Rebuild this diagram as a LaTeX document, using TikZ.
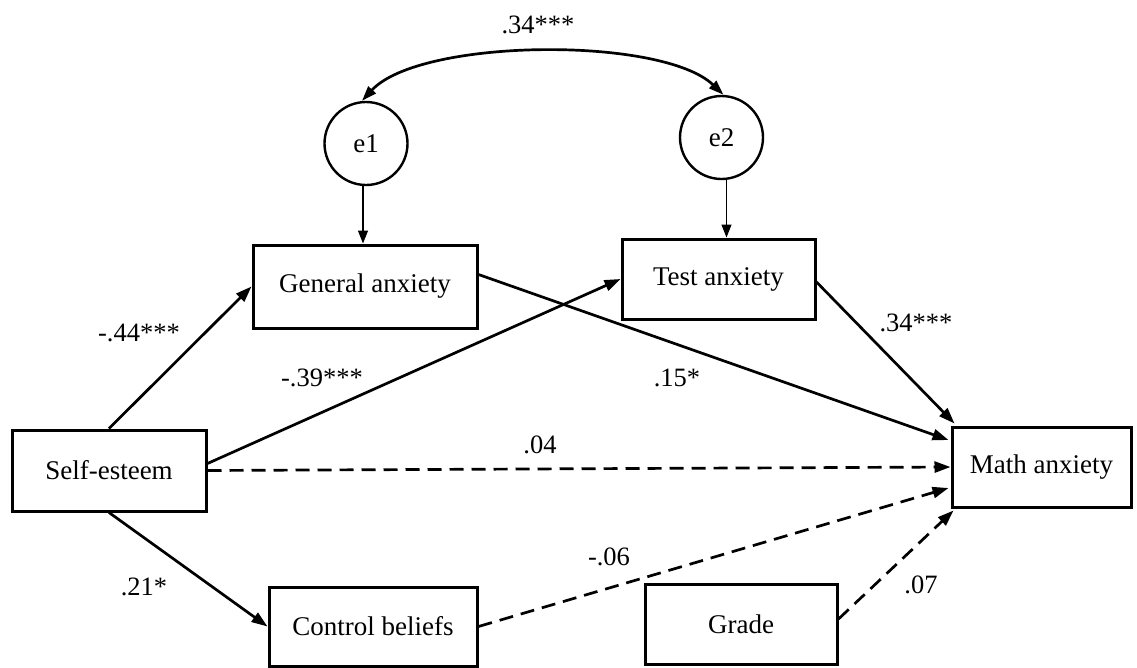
\documentclass[tikz,border=0pt]{standalone}
\usepackage{fontspec}
\setmainfont{Liberation Serif}
\usetikzlibrary{arrows.meta,calc}
\begin{document}
\begin{tikzpicture}[x=1pt,y=-1pt,
  box/.style={draw,line width=3pt,rectangle,inner sep=0pt,font=\fontsize{27}{32}\selectfont},
  err/.style={draw,line width=2.4pt,circle,inner sep=0pt,minimum size=83pt,font=\fontsize{27}{32}\selectfont},
  lbl/.style={inner sep=0pt,font=\fontsize{26.5}{32}\selectfont},
  path/.style={line width=2.7pt,-{Triangle[length=16pt,width=11pt]}},
  dpath/.style={path,dash pattern=on 14pt off 8pt},
  thinarr/.style={line width=1.3pt,-{Triangle[length=13pt,width=10pt]}},
  corr/.style={line width=2.7pt,{Triangle[length=15pt,width=10pt]}-{Triangle[length=15pt,width=10pt]}}
]
\useasboundingbox (0,0) rectangle (1137,667);
\fill[white] (0,0) rectangle (1137,667);

\node[box,minimum width=194pt,minimum height=81pt] (selfe) at (109,470.5) {Self-esteem};
\node[box,minimum width=224pt,minimum height=83pt] (gen) at (365,286.5) {General anxiety};
\node[box,minimum width=193pt,minimum height=80pt] (test) at (718.5,279) {Test anxiety};
\node[box,minimum width=179pt,minimum height=80pt] (math) at (1041.5,467) {Math anxiety};
\node[box,minimum width=208pt,minimum height=79pt] (ctrl) at (373,626.5) {Control beliefs};
\node[box,minimum width=192pt,minimum height=80pt] (grade) at (741,624) {Grade};
\node[err] (e1) at (366,143.5) {e1};
\node[err] (e2) at (721.5,137.5) {e2};

% error arrows
\draw[thinarr] ([xshift=-3pt]e1.south) -- ([xshift=-3pt]e1.south |- gen.north);
\draw[thinarr] ([xshift=5pt]e2.south) -- ([xshift=5pt]e2.south |- test.north);

% correlation
\draw[corr] ([xshift=-4pt]e1.north) .. controls (420,38) and (662,36) .. ([xshift=2pt]e2.north);
\node[lbl] (l0) at (538,25) {.34***};

% paths
\draw[path] (selfe.north) -- (gen.west);
\draw[path] ($(selfe.east)+(0,-7)$) -- (test.west);
\draw[dpath] (selfe.east) -- (math.west);
\draw[path] (selfe.south) -- (ctrl.west);
\draw[path] ($(gen.east)+(0,-12)$) -- ($(math.west)+(-2,-27)$);
\draw[path] ($(test.east)+(0,3)$) -- ($(math.north west)+(4,-2)$);
\draw[dpath] (ctrl.east) -- ($(math.west)+(-2,21)$);
\draw[dpath] ($(grade.east)+(0,-5)$) -- ($(math.south west)+(3,2)$);

% labels
\node[lbl] (l1) at (139,333) {-.44***};
\node[lbl] (l2) at (322,378) {-.39***};
\node[lbl] (l3) at (677,378) {.15*};
\node[lbl] (l4) at (916,323) {.34***};
\node[lbl] (l5) at (540,445) {.04};
\node[lbl] (l6) at (144,587) {.21*};
\node[lbl] (l7) at (609,557) {-.06};
\node[lbl] (l8) at (921,585) {.07};
\end{tikzpicture}
\end{document}
